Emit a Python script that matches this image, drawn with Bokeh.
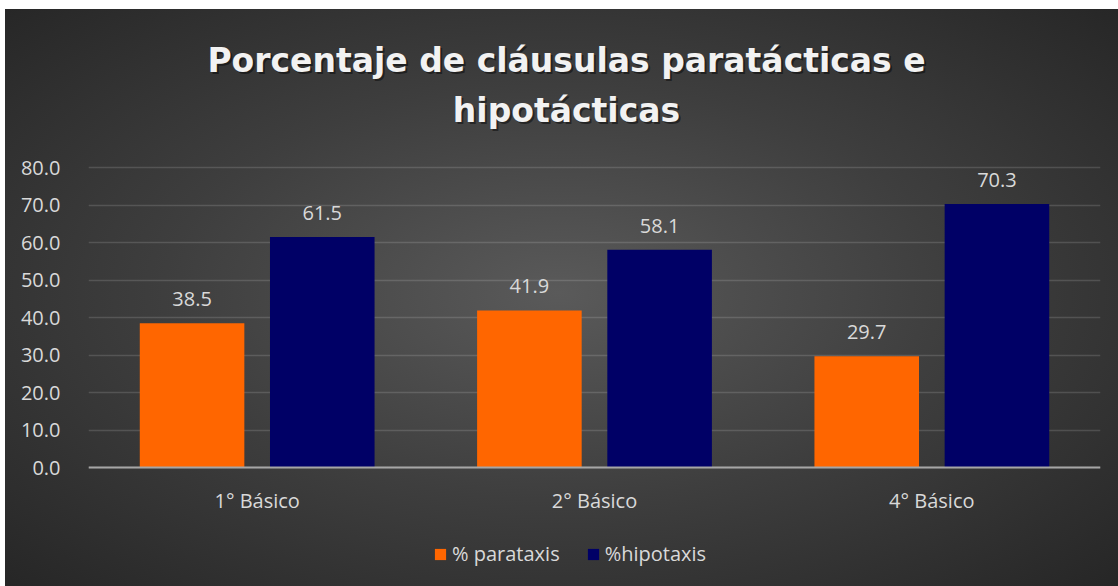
from bokeh.plotting import figure
from bokeh.models import (ColumnDataSource, LabelSet, Label, Legend, LegendItem,
                          FactorRange, Range1d, NumeralTickFormatter, Span)
from bokeh.transform import dodge
from bokeh.embed import file_html
from bokeh.resources import INLINE
from bokeh.core.properties import value

# ---- data ----
categories = ["1° Básico", "2° Básico", "4° Básico"]
parataxis = [38.5, 41.9, 29.7]
hipotaxis = [61.5, 58.1, 70.3]
series_names = ["% parataxis", "%hipotaxis"]
series_colors = ["#FF6600", "#000066"]
title_lines = ["Porcentaje de cláusulas paratácticas e", "hipotácticas"]
y_ticks = [0, 10, 20, 30, 40, 50, 60, 70, 80]

FONT = "Open Sans"
TXT = "#D9D9D9"
FS = "20px"

src = ColumnDataSource(dict(
    cat=categories,
    para=parataxis,
    hipo=hipotaxis,
    zero=[0, 0, 0],
    para_lbl=[f"{v:.1f}" for v in parataxis],
    hipo_lbl=[f"{v:.1f}" for v in hipotaxis],
))

# the frame covers the whole canvas height so titles / legend are not clipped
PX = 3.75  # pixels per unit (300 px for 0..80)
y_lo = -(586 - 467) / PX
y_hi = 467 / PX

p = figure(x_range=FactorRange(factors=categories), y_range=Range1d(y_lo, y_hi),
           frame_width=1012, frame_height=586,
           min_border_left=88, min_border_right=18,
           min_border_top=0, min_border_bottom=0,
           output_backend="svg", toolbar_location=None,
           background_fill_color=None, border_fill_color=None,
           outline_line_color=None)
p.styles = {"background": (
    "linear-gradient(#ffffff,#ffffff) 0 0/100% 9px no-repeat, "
    "linear-gradient(#ffffff,#ffffff) 0 0/5px 100% no-repeat, "
    "radial-gradient(ellipse farthest-corner at 50% 50%, #5a5a5a 0%, #3e3e3e 50%, #262626 100%)")}

off = 0.193
bw = 0.31
r1 = p.vbar(x=dodge("cat", -off, range=p.x_range), top="para", width=bw, bottom=0,
            source=src, fill_color=series_colors[0], line_color=None)
r2 = p.vbar(x=dodge("cat", off, range=p.x_range), top="hipo", width=bw, bottom=0,
            source=src, fill_color=series_colors[1], line_color=None)

for col, lbl, o in (("para", "para_lbl", -off), ("hipo", "hipo_lbl", off)):
    p.add_layout(LabelSet(x=dodge("cat", o, range=p.x_range), y=col, text=lbl, source=src,
                          text_align="center", text_baseline="middle", y_offset=24,
                          text_font=value(FONT), text_font_size=FS, text_color=TXT))

# category labels under the baseline
p.add_layout(LabelSet(x="cat", y="zero", text="cat", source=src,
                      text_align="center", text_baseline="middle", y_offset=-33,
                      text_font=value(FONT), text_font_size=FS, text_color=TXT))

# baseline (category axis line)
p.add_layout(Span(location=0, dimension="width", line_color="#A6A6A6", line_width=2))

# title lines (with soft shadow)
for txt, yy in zip(title_lines, (108.5, 95.2)):
    for dx, dy, col, a in ((2, -2, "#000000", 0.45), (0, 0, "#F2F2F2", 1.0)):
        p.add_layout(Label(x=1.417, y=yy, x_offset=dx, y_offset=dy, text=txt,
                           text_align="center", text_baseline="middle",
                           text_font="DejaVu Sans", text_font_style="bold",
                           text_font_size="33px", text_color=col, text_alpha=a))

# axes
p.xaxis.visible = False
p.yaxis.ticker = y_ticks
p.yaxis.formatter = NumeralTickFormatter(format="0.0")
p.yaxis.axis_line_color = None
p.yaxis.major_tick_line_color = None
p.yaxis.minor_tick_line_color = None
p.yaxis.major_label_standoff = 22
p.yaxis.major_label_text_font = FONT
p.yaxis.major_label_text_font_size = FS
p.yaxis.major_label_text_color = TXT

p.xgrid.grid_line_color = None
p.ygrid.grid_line_color = "#FFFFFF"
p.ygrid.grid_line_alpha = 0.14
p.ygrid.grid_line_width = 1.5

legend = Legend(items=[LegendItem(label=series_names[0], renderers=[r1]),
                       LegendItem(label=series_names[1], renderers=[r2])],
                orientation="horizontal", location=(345, 19),
                glyph_width=14, glyph_height=14, label_standoff=5, spacing=26,
                padding=0, margin=0, border_line_color=None, background_fill_alpha=0,
                label_text_font=FONT, label_text_font_size=FS, label_text_color=TXT)
p.add_layout(legend, "center")

open("out.html", "w").write(file_html(p, INLINE))
